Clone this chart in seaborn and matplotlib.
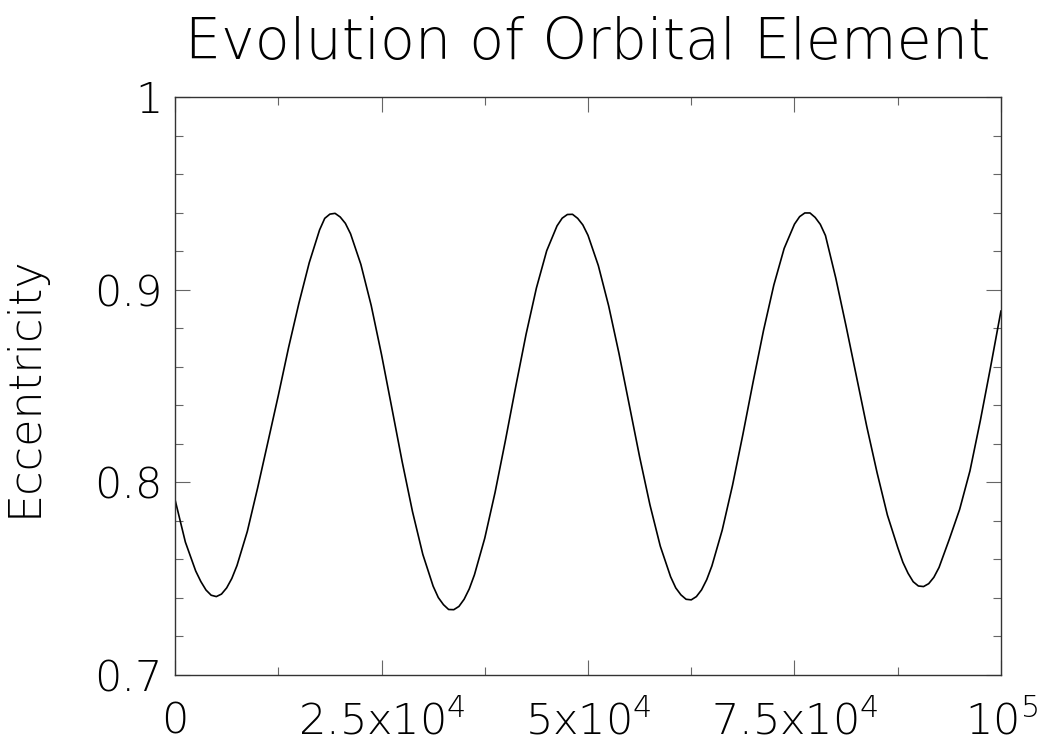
import numpy as np
import pandas as pd
import seaborn as sns
import matplotlib
matplotlib.use('Agg')
import matplotlib.pyplot as plt
from matplotlib.ticker import MultipleLocator, FixedLocator, FixedFormatter

# time (years) and eccentricity, denser around the turning points
time = [
    0, 1250, 2500, 3125, 3750, 4375, 5000, 5625, 6250, 6875,
    7500, 8750, 10000, 11250, 12500, 13750, 15000, 16250, 17500, 18125,
    18750, 19375, 20000, 20625, 21250, 22500, 23750, 25000, 26250, 27500,
    28750, 30000, 31250, 31875, 32500, 33125, 33750, 34375, 35000, 35625,
    36250, 37500, 38750, 40000, 41250, 42500, 43750, 45000, 46250, 46875,
    47500, 48125, 48750, 49375, 50000, 51250, 52500, 53750, 55000, 56250,
    57500, 58750, 60000, 60625, 61250, 61875, 62500, 63125, 63750, 64375,
    65000, 66250, 67500, 68750, 70000, 71250, 72500, 73750, 75000, 75625,
    76250, 76875, 77500, 78125, 78750, 80000, 81250, 82500, 83750, 85000,
    86250, 87500, 88125, 88750, 89375, 90000, 90625, 91250, 91875, 92500,
    93750, 95000, 96250, 97500, 98750, 100000,
]
ecc = [
    0.791, 0.769, 0.754, 0.7485, 0.7441, 0.7414, 0.7407, 0.7420, 0.7452, 0.7501,
    0.7568, 0.7745, 0.7971, 0.8210, 0.845, 0.870, 0.893, 0.914, 0.931, 0.9370,
    0.9392, 0.9396, 0.9377, 0.9344, 0.929, 0.9131, 0.8918, 0.8663, 0.8386, 0.8107,
    0.7848, 0.7626, 0.7461, 0.7402, 0.7365, 0.7340, 0.7339, 0.7356, 0.7393, 0.7447,
    0.7520, 0.7710, 0.7948, 0.8217, 0.8497, 0.8768, 0.9008, 0.9202, 0.9331, 0.9371,
    0.9390, 0.9391, 0.9370, 0.9336, 0.9282, 0.9125, 0.8916, 0.8669, 0.8401, 0.8132,
    0.7883, 0.7669, 0.7510, 0.7452, 0.7416, 0.7393, 0.7390, 0.7407, 0.7442, 0.7495,
    0.7566, 0.7752, 0.7985, 0.8248, 0.8523, 0.8788, 0.9024, 0.9214, 0.9340, 0.9379,
    0.9398, 0.9398, 0.9375, 0.9339, 0.9281, 0.906, 0.881, 0.855, 0.829, 0.805,
    0.783, 0.7662, 0.7585, 0.7528, 0.7484, 0.7462, 0.7459, 0.7474, 0.7507, 0.7558,
    0.7705, 0.786, 0.806, 0.832, 0.860, 0.889,
]

xticks = [0, 25000, 50000, 75000, 100000]
xticklabels = ['0', '2.5x10$^4$', '5x10$^4$', '7.5x10$^4$', '10$^5$']
yticks = [0.7, 0.8, 0.9, 1.0]
yticklabels = ['0.7', '0.8', '0.9', '1']

df = pd.DataFrame({'time': time, 'ecc': ecc})

sns.set_style('ticks')
plt.rcParams['font.family'] = ['DejaVu Sans']
plt.rcParams['font.weight'] = 'light'
plt.rcParams['axes.titleweight'] = 'light'
plt.rcParams['axes.labelweight'] = 'light'
plt.rcParams['mathtext.default'] = 'regular'

fig = plt.figure(figsize=(10.5, 7.5), dpi=100)
ax = fig.add_axes([0.1667, 0.1, 0.7866, 0.7707])

sns.lineplot(data=df, x='time', y='ecc', ax=ax, color='black', linewidth=1.2)

ax.set_xlim(0, 100000)
ax.set_ylim(0.7, 1.0)
ax.xaxis.set_major_locator(FixedLocator(xticks))
ax.xaxis.set_major_formatter(FixedFormatter(xticklabels))
ax.xaxis.set_minor_locator(MultipleLocator(12500))
ax.yaxis.set_major_locator(FixedLocator(yticks))
ax.yaxis.set_major_formatter(FixedFormatter(yticklabels))
ax.yaxis.set_minor_locator(MultipleLocator(0.02))

ax.tick_params(which='both', direction='in', top=True, right=True, color='#666666')
ax.tick_params(which='major', length=11, width=0.8, labelsize=31, labelcolor='black')
ax.tick_params(which='minor', length=6, width=0.8)
ax.tick_params(axis='x', which='major', pad=18)
ax.tick_params(axis='y', which='major', pad=9)
for sp in ax.spines.values():
    sp.set_color('#333333')
    sp.set_linewidth(1.0)

ax.set_xlabel('')
ax.set_ylabel('Eccentricity', fontsize=32, labelpad=35, color='black')
ax.set_title('Evolution of Orbital Element', fontsize=41, pad=27, color='black')

fig.savefig('out.png', dpi=100)
